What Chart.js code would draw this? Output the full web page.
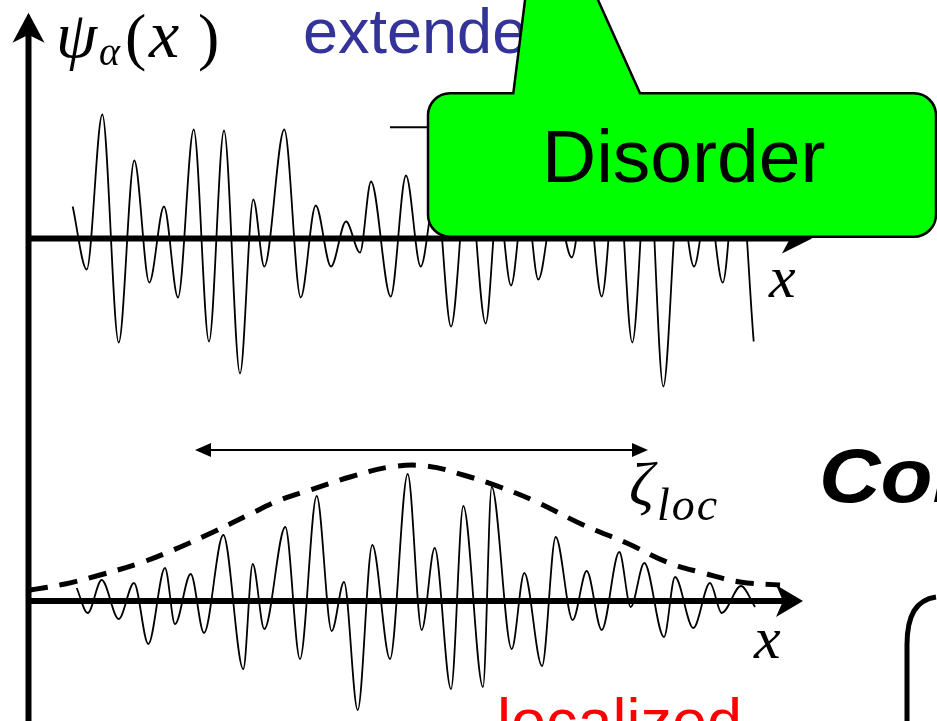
<!DOCTYPE html>
<html>
<head>
<meta charset="utf-8">
<script src="https://cdn.jsdelivr.net/npm/chart.js@4/dist/chart.umd.min.js"></script>
<style>
  html, body { margin: 0; padding: 0; background: #fff; overflow: hidden; }
  #wrap { width: 937px; height: 721px; }
</style>
</head>
<body>
<div id="wrap"><canvas id="myChart" width="937" height="721"></canvas></div>
<script>
// extended state: turning points (x, psi above its axis)
const xExt = [72.7, 86.7, 102.3, 118.7, 134.3, 149.3, 164, 178, 193.7, 209,
  224, 240, 253.3, 264.3, 284.3, 300.7, 315.7, 331, 346, 360,
  371, 390.7, 406, 420.7, 436, 451, 468, 485.7, 498, 511,
  525, 538.3, 555, 571.7, 586, 601.7, 617, 632.3, 648, 663.3,
  679, 694, 708, 722.7, 738, 753.7];
const psiExt = [32, -31, 124, -104, 78, -44, 32, -59, 109, -103,
  108, -135, 39, -28, 109, -59, 33, -28, 17, -14,
  57, -58, 63, -28, 50, -88, 70, -85, 40, -47,
  50, -41, 40, -19, 60, -58, 80, -104, 90, -148,
  50, -28, 40, -44, 90, -103];

// localized state
const xLoc = [76.7, 87.7, 101.7, 118.7, 134, 148.3, 165, 175, 190.7, 204,
  223.3, 243.3, 252.7, 264.3, 285.3, 300, 316.7, 331.7, 344, 357.7,
  372.3, 390, 407.7, 421.7, 434.7, 451, 463.3, 483, 491.7, 511.7,
  524.3, 542, 555.7, 572.7, 586.7, 601.7, 619.3, 630.7, 644.3, 664,
  675, 693.3, 710, 721.7, 741, 755];
const psiLoc = [13, -12, 21, -18, 18, -43, 33, -23, 27, -32,
  66, -68, 37, -28, 74, -58, 105, -30, 19, -109,
  56, -58, 127, -29, 53, -88, 95, -86, 114, -48,
  28, -65, 64, -19, 30, -29, 49, -6, 38, -36,
  24, -27, 18, -12, 15, -6];

// envelope of the localized state (dashed)
const xEnv = [30, 65, 100, 140, 173.3, 213.3, 248.3, 280, 310, 350, 390,
  426.7, 463.3, 500, 536.7, 583.3, 626.7, 666.7, 703.3, 740, 780];
const psiEnv = [11, 17, 26, 38, 51, 69, 86, 101, 111, 124, 134,
  135, 126, 114, 99, 76, 58, 39, 28, 19, 16];

const W = 937, H = 721;
const axisX = 28.5;
const topAxisY = 238.5;
const botAxisY = 601;

function pts(xs, ys, base) {
  return xs.map((x, i) => ({ x: x, y: base - ys[i] }));
}

function arrowHead(ctx, tx, ty, dx, dy, len, half, notch) {
  const bx = tx - dx * len, by = ty - dy * len;
  const nx = tx - dx * notch, ny = ty - dy * notch;
  ctx.beginPath();
  ctx.moveTo(tx, ty);
  ctx.lineTo(bx - dy * half, by + dx * half);
  ctx.lineTo(nx, ny);
  ctx.lineTo(bx + dy * half, by - dx * half);
  ctx.closePath();
  ctx.fill();
}

const sketch = {
  id: 'sketch',
  afterDatasetsDraw(chart) {
    const ctx = chart.ctx;
    const sx = chart.scales.x, sy = chart.scales.y;
    const px = v => sx.getPixelForValue(v);
    const py = v => sy.getPixelForValue(v);
    ctx.save();
    ctx.fillStyle = '#000';
    ctx.strokeStyle = '#000';

    // axis arrow heads
    arrowHead(ctx, px(axisX), py(12.7), 0, -1, 30, 16, 22);
    arrowHead(ctx, px(812), py(topAxisY), 1, 0, 30, 15, 22);
    arrowHead(ctx, px(803), py(botAxisY), 1, 0, 27, 16, 20);

    // zeta_loc double arrow
    ctx.lineWidth = 2;
    ctx.beginPath();
    ctx.moveTo(px(205), py(450));
    ctx.lineTo(px(638), py(450));
    ctx.stroke();
    arrowHead(ctx, px(195), py(450), -1, 0, 16, 7, 16);
    arrowHead(ctx, px(648), py(450), 1, 0, 16, 7, 16);

    // labels
    ctx.textBaseline = 'alphabetic';
    ctx.textAlign = 'left';
    ctx.font = 'italic 66px "Liberation Serif"';
    ctx.fillText('\u03c8', px(56), py(57));
    ctx.font = 'italic 40px "Liberation Serif"';
    ctx.fillText('\u03b1', px(99), py(65));
    ctx.font = '64px "Liberation Serif"';
    ctx.fillText('(', px(125), py(58));
    ctx.fillText(')', px(198), py(58));
    ctx.font = 'italic 68px "Liberation Serif"';
    ctx.fillText('x', px(149), py(57));

    ctx.font = 'italic 60px "Liberation Serif"';
    ctx.fillText('x', px(769), py(296.7));
    ctx.fillText('x', px(754), py(658.3));

    ctx.font = 'italic 62px "Liberation Serif"';
    ctx.fillText('\u03b6', px(629), py(505));
    ctx.font = 'italic 46px "Liberation Serif"';
    ctx.letterSpacing = '2px';
    ctx.fillText('loc', px(657), py(520));
    ctx.letterSpacing = '0px';

    ctx.fillStyle = '#333399';
    ctx.font = '63px "Liberation Sans"';
    ctx.fillText('extended', px(303), py(53.3));

    ctx.fillStyle = '#ff0000';
    ctx.fillText('localized', px(497), py(743));

    // bold italic heading on the right, cut by the edge
    ctx.fillStyle = '#000';
    ctx.save();
    ctx.translate(px(819), py(502));
    ctx.scale(1.12, 1);
    ctx.font = 'italic bold 76px "Liberation Sans"';
    ctx.fillText('Conductor', 0, 0);
    ctx.restore();

    // big brace on the right
    ctx.lineWidth = 5;
    ctx.beginPath();
    ctx.moveTo(px(936), py(597));
    ctx.bezierCurveTo(px(916), py(600), px(907), py(615), px(907), py(645));
    ctx.lineTo(px(907), py(730));
    ctx.stroke();

    // hidden arrow for "extended"
    ctx.lineWidth = 2;
    ctx.beginPath();
    ctx.moveTo(px(390), py(127.3));
    ctx.lineTo(px(700), py(127.3));
    ctx.stroke();

    // Disorder callout
    const l = px(428), r = px(936), t = py(93.3), b = py(236.7), rad = 22;
    ctx.beginPath();
    ctx.moveTo(l + rad, t);
    ctx.lineTo(px(513.3), t);
    ctx.lineTo(px(526.3), py(-10));
    ctx.lineTo(px(593.5), py(-10));
    ctx.lineTo(px(640), t);
    ctx.lineTo(r - rad, t);
    ctx.arcTo(r, t, r, t + rad, rad);
    ctx.lineTo(r, b - rad);
    ctx.arcTo(r, b, r - rad, b, rad);
    ctx.lineTo(l + rad, b);
    ctx.arcTo(l, b, l, b - rad, rad);
    ctx.lineTo(l, t + rad);
    ctx.arcTo(l, t, l + rad, t, rad);
    ctx.closePath();
    ctx.fillStyle = '#00ff00';
    ctx.fill();
    ctx.lineWidth = 2.5;
    ctx.stroke();

    ctx.fillStyle = '#000';
    ctx.font = '75px "Liberation Sans"';
    ctx.fillText('Disorder', px(542), py(182));
    ctx.restore();
  }
};

const ctx = document.getElementById('myChart');
const chart = new Chart(ctx, {
  type: 'line',
  data: {
    datasets: [
      {
        label: 'y axis',
        data: [{ x: axisX, y: H }, { x: axisX, y: 30 }],
        borderColor: '#000', borderWidth: 6, tension: 0
      },
      {
        label: 'top axis',
        data: [{ x: axisX, y: topAxisY }, { x: 790, y: topAxisY }],
        borderColor: '#000', borderWidth: 6, tension: 0
      },
      {
        label: 'bottom axis',
        data: [{ x: axisX, y: botAxisY }, { x: 785, y: botAxisY }],
        borderColor: '#000', borderWidth: 6, tension: 0
      },
      {
        label: 'extended',
        data: pts(xExt, psiExt, topAxisY),
        borderColor: '#000', borderWidth: 1.8,
        cubicInterpolationMode: 'monotone'
      },
      {
        label: 'localized',
        data: pts(xLoc, psiLoc, botAxisY),
        borderColor: '#000', borderWidth: 1.8,
        cubicInterpolationMode: 'monotone'
      },
      {
        label: 'envelope',
        data: pts(xEnv, psiEnv, botAxisY),
        borderColor: '#000', borderWidth: 5,
        borderDash: [18, 12], tension: 0.4
      }
    ]
  },
  options: {
    responsive: false,
    animation: false,
    layout: { padding: 0 },
    elements: { point: { radius: 0 } },
    plugins: { legend: { display: false }, tooltip: { enabled: false } },
    scales: {
      x: { type: 'linear', min: 0, max: W, display: false },
      y: { type: 'linear', min: 0, max: H, reverse: true, display: false }
    }
  },
  plugins: [sketch]
});
</script>
</body>
</html>
